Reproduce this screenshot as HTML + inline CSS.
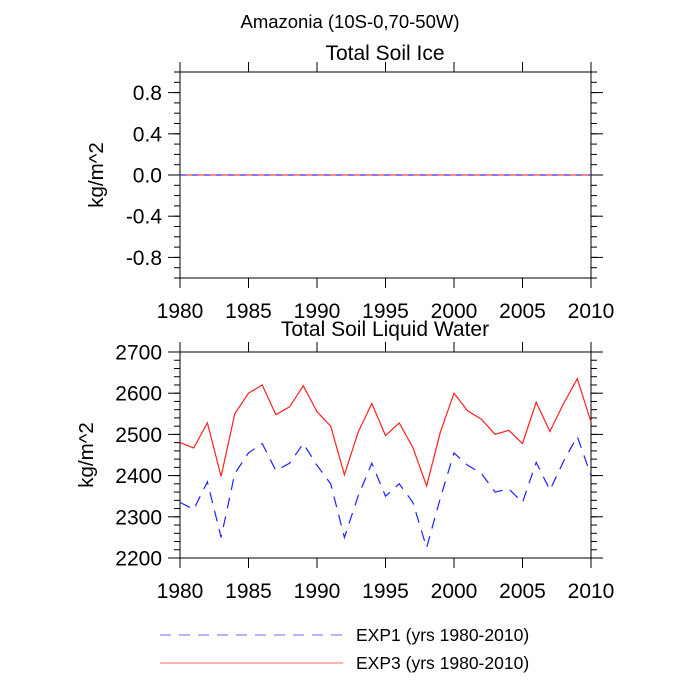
<!DOCTYPE html>
<html><head><meta charset="utf-8"><style>
body{margin:0;background:#fff}
svg{display:block;font-family:"Liberation Sans",sans-serif}
</style></head><body>
<svg id="c" width="700" height="700" viewBox="0 0 700 700">
<text x="350" y="28" font-size="18.5" text-anchor="middle">Amazonia (10S-0,70-50W)</text>
<text x="385" y="60" font-size="21" text-anchor="middle">Total Soil Ice</text>
<text x="385" y="336" font-size="21" text-anchor="middle">Total Soil Liquid Water</text>
<text transform="translate(103,175) rotate(-90)" font-size="20.5" text-anchor="middle">kg/m^2</text>
<text transform="translate(93,455) rotate(-90)" font-size="20.5" text-anchor="middle">kg/m^2</text>
<g>
<line x1="160" y1="635" x2="343" y2="635" stroke="#6a6aff" stroke-width="1" stroke-dasharray="11,8"/>
<text x="356" y="641" font-size="17.5">EXP1 (yrs 1980-2010)</text>
<line x1="160" y1="663" x2="343" y2="663" stroke="#ff6a6a" stroke-width="1"/>
<text x="356" y="669" font-size="17.5">EXP3 (yrs 1980-2010)</text>
</g>
</svg>
<script>
const years=[1980,1981,1982,1983,1984,1985,1986,1987,1988,1989,1990,1991,1992,1993,1994,1995,1996,1997,1998,1999,2000,2001,2002,2003,2004,2005,2006,2007,2008,2009,2010];
const exp3Liquid=[2480,2467,2528,2398,2550,2600,2620,2548,2567,2618,2555,2520,2402,2505,2575,2497,2528,2468,2375,2505,2600,2557,2537,2500,2510,2478,2578,2507,2575,2635,2530];
const exp1Liquid=[2335,2318,2385,2250,2405,2455,2478,2412,2430,2478,2425,2380,2250,2350,2430,2350,2380,2335,2225,2345,2455,2425,2405,2360,2368,2335,2432,2365,2435,2495,2400];
const exp1Ice=years.map(()=>0);
const exp3Ice=years.map(()=>0);
const xTicks=[1980,1985,1990,1995,2000,2005,2010];
const topYTicks=[-0.8,-0.4,0.0,0.4,0.8];
const topYTickLabels=["-0.8","-0.4","0.0","0.4","0.8"];
const botYTicks=[2200,2300,2400,2500,2600,2700];

const svg=document.getElementById('c');
const NS='http://www.w3.org/2000/svg';
function mk(t,a,p){const e=document.createElementNS(NS,t);for(const k in a)e.setAttribute(k,a[k]);(p||svg).appendChild(e);return e;}
const X0=180,X1=591;
const xs=v=>X0+(v-1980)/(2010-1980)*(X1-X0);

function panel(name,top,bot,ymin,ymax,yt,ylabels,minorStep,series){
  const ys=v=>bot-(v-ymin)/(ymax-ymin)*(bot-top);
  const g=mk('g',{});
  
  
  const fr=mk('rect',{x:X0,y:top,width:X1-X0,height:bot-top,fill:'none',stroke:'#000','stroke-width':1},g);
  
  
  for(let v=ymin;v<=ymax+1e-9;v+=minorStep){
    const y=ys(v);
    mk('line',{x1:X0-6,x2:X0,y1:y,y2:y,stroke:'#000','stroke-width':1},g);
    mk('line',{x1:X1,x2:X1+6,y1:y,y2:y,stroke:'#000','stroke-width':1},g);
  }
  yt.forEach((v,i)=>{
    const y=ys(v);
    mk('line',{x1:X0-12,x2:X0,y1:y,y2:y,stroke:'#000','stroke-width':1},g);
    mk('line',{x1:X1,x2:X1+12,y1:y,y2:y,stroke:'#000','stroke-width':1},g);
    const t=mk('text',{x:X0-18,y:y+7.5,'font-size':21,'text-anchor':'end'},g);
    t.textContent=ylabels[i];
    
    
  });
  xTicks.forEach(v=>{
    const x=xs(v);
    mk('line',{x1:x,x2:x,y1:top-10,y2:top,stroke:'#000','stroke-width':1},g);
    mk('line',{x1:x,x2:x,y1:bot,y2:bot+10,stroke:'#000','stroke-width':1},g);
    const t=mk('text',{x:x,y:bot+40,'font-size':21,'text-anchor':'middle'},g);
    t.textContent=v;
    
    
  });
  series.forEach(s=>{
    const pts=years.map((yr,i)=>xs(yr).toFixed(1)+','+ys(s.vals[i]).toFixed(1)).join(' ');
    const p=mk('polyline',{points:pts,fill:'none',stroke:s.color,'stroke-width':1.2},g);
    if(s.dash)p.setAttribute('stroke-dasharray',s.dash);
    
    
  });
}
panel('top',72,278,-1,1,topYTicks,topYTickLabels,0.1,[
  {vals:exp3Ice,color:'#ff4040',n:'exp3-ice-line'},
  {vals:exp1Ice,color:'#4040ff',dash:'6,6',n:'exp1-ice-line'}]);
panel('bottom',352,558,2200,2700,botYTicks,botYTicks.map(String),20,[
  {vals:exp1Liquid,color:'#2020ff',dash:'11,8',n:'exp1-liquid-line'},
  {vals:exp3Liquid,color:'#ff2020',n:'exp3-liquid-line'}]);
</script>
</body></html>
